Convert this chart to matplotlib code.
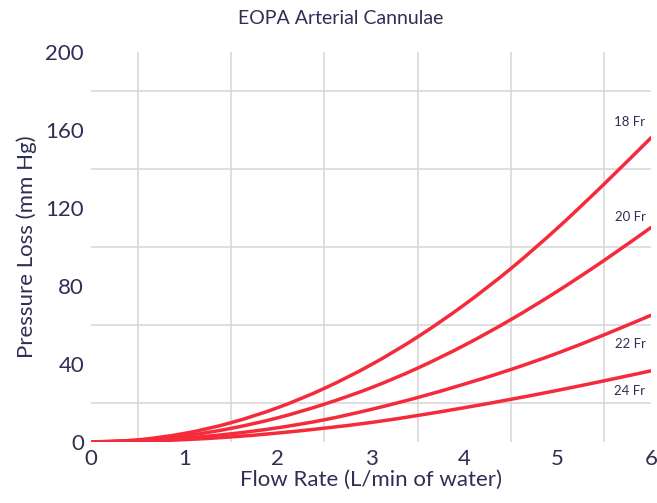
import numpy as np
import matplotlib.pyplot as plt
from matplotlib.ticker import FixedLocator
from matplotlib.path import Path
from matplotlib.patches import PathPatch

# flow rate (L/min) and pressure loss (mm Hg)
flow = [0, 0.5, 1, 1.5, 2, 2.5, 3, 3.5, 4, 4.5, 5, 5.5, 6]
fr18 = [0, 1.1, 4.4, 9.9, 17.6, 27.5, 39.6, 53.9, 70.4, 89, 109.8, 132.4, 156]
fr20 = [0, 0.8, 3.1, 7.0, 12.4, 19.4, 27.8, 37.9, 49.6, 62.8, 77.4, 93.2, 110]
fr22 = [0, 0.5, 1.9, 4.2, 7.3, 11.4, 16.7, 22.8, 29.7, 37.2, 45.6, 55.0, 65]
fr24 = [0, 0.3, 1.2, 2.6, 4.6, 7.1, 10.0, 13.6, 17.6, 21.9, 26.5, 31.4, 36.5]
series = [("18 Fr", fr18, 164), ("20 Fr", fr20, 115.5), ("22 Fr", fr22, 50), ("24 Fr", fr24, 26)]

x_ticks = [0, 1, 2, 3, 4, 5, 6]
y_ticks = [0, 40, 80, 120, 160, 200]

text_col = "#2f2f55"
red = "#f52a3b"
plt.rcParams['font.family'] = ['Lato', 'DejaVu Sans']


def smooth_path(xs, ys):
    # catmull-rom through the points, as cubic bezier segments
    p = np.column_stack([xs, ys]).astype(float)
    pts = [p[0]]
    codes = [Path.MOVETO]
    n = len(p)
    for i in range(n - 1):
        p0 = p[i - 1] if i > 0 else p[i]
        p3 = p[i + 2] if i + 2 < n else p[i + 1]
        c1 = p[i] + (p[i + 1] - p0) / 6
        c2 = p[i + 1] - (p3 - p[i]) / 6
        pts += [c1, c2, p[i + 1]]
        codes += [Path.CURVE4] * 3
    return Path(np.array(pts), codes)


fig = plt.figure(figsize=(6.57, 5.03), dpi=100)
ax = fig.add_axes([91/657, 1 - 442/503, 560/657, 390/503])

for name, vals, ylab in series:
    patch = PathPatch(smooth_path(flow, vals), fill=False, edgecolor=red, lw=2.5,
                      capstyle='round', joinstyle='round', zorder=3)
    ax.add_patch(patch)
    ax.text(5.94, ylab, name, ha='right', va='center', fontsize=9.5, color=text_col)

ax.set_xlim(0, 6)
ax.set_ylim(0, 200)
ax.set_xticks(x_ticks)
ax.set_yticks(y_ticks)
ax.xaxis.set_minor_locator(FixedLocator(np.arange(0.5, 6, 0.5)))
ax.yaxis.set_minor_locator(FixedLocator(np.arange(20, 200, 20)))
ax.grid(which='minor', color='#d9d9d9', lw=1.2, zorder=0)
ax.grid(which='major', visible=False)
ax.tick_params(which='both', length=0, labelsize=16, colors=text_col)
ax.tick_params(axis='y', pad=5)
ax.tick_params(axis='x', pad=5)
for s in ax.spines.values():
    s.set_visible(False)

ax.set_xlabel("Flow Rate (L/min of water)", fontsize=16, color=text_col, labelpad=1)
ax.set_ylabel("Pressure Loss (mm Hg)", fontsize=16, color=text_col, labelpad=6)
fig.text(341/657, 1 - 18/503, "EOPA Arterial Cannulae", ha='center', va='center', fontsize=14, color=text_col)

fig.savefig("out.png", dpi=100)
